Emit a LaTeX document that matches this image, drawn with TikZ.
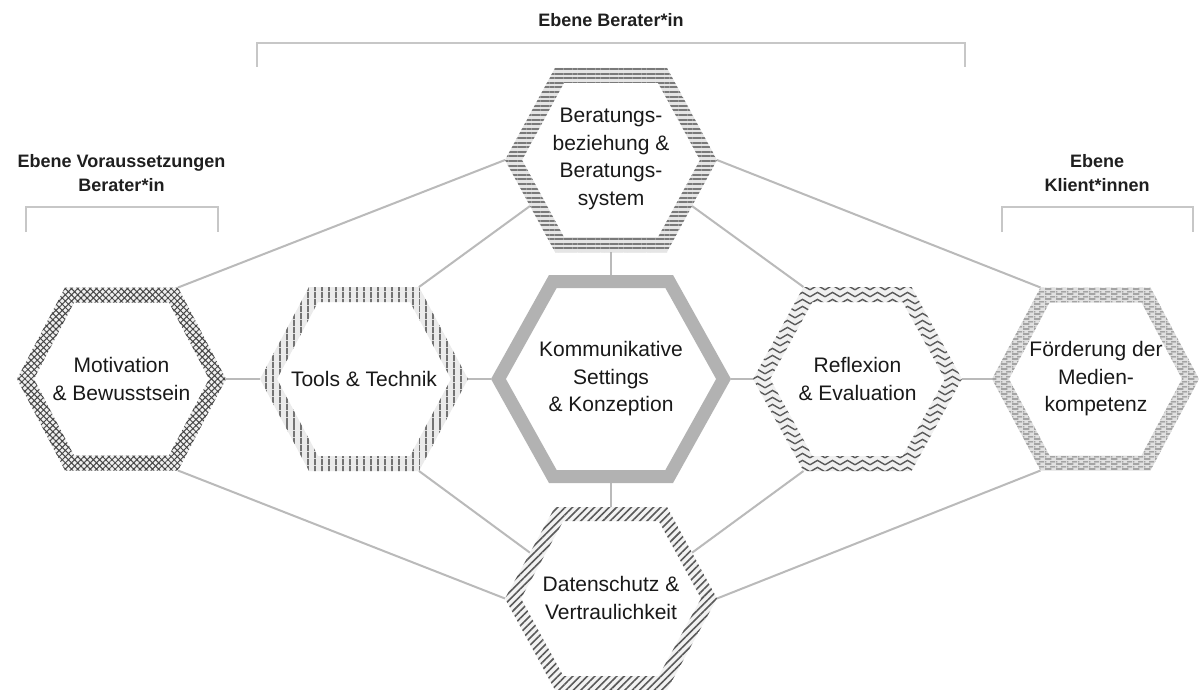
\documentclass[tikz,border=0pt]{standalone}
\usepackage{fontspec}
\setmainfont{Liberation Sans}
\usetikzlibrary{patterns,patterns.meta}

\pgfdeclarepatternformonly{zigzagrows}{\pgfqpoint{-1pt}{-1pt}}{\pgfqpoint{16pt}{8pt}}{\pgfqpoint{15pt}{7pt}}{%
  \pgfsetlinewidth{1.4pt}%
  \pgfpathmoveto{\pgfqpoint{0pt}{1.2pt}}%
  \pgfpathlineto{\pgfqpoint{7.5pt}{5.6pt}}%
  \pgfpathlineto{\pgfqpoint{15pt}{1.2pt}}%
  \pgfusepath{stroke}}

\pgfdeclarepatternformonly{dashrows}{\pgfqpoint{0pt}{0pt}}{\pgfqpoint{11pt}{5pt}}{\pgfqpoint{11pt}{5pt}}{%
  \pgfsetlinewidth{1.4pt}%
  \pgfpathmoveto{\pgfqpoint{0pt}{1.2pt}}\pgfpathlineto{\pgfqpoint{7pt}{1.2pt}}%
  \pgfpathmoveto{\pgfqpoint{5.5pt}{3.7pt}}\pgfpathlineto{\pgfqpoint{11pt}{3.7pt}}%
  \pgfpathmoveto{\pgfqpoint{0pt}{3.7pt}}\pgfpathlineto{\pgfqpoint{1.5pt}{3.7pt}}%
  \pgfusepath{stroke}}

% #1 name, #2 cx, #3 cy, #4 half width, #5 half top edge, #6 half height, #7 band, #8 style
\newcommand\hexband[8]{%
  \pgfmathsetmacro\hbD{#7*sqrt(1+((#4-#5)/#6)^2)}%
  \pgfmathsetmacro\hbW{#4-\hbD}%
  \pgfmathsetmacro\hbH{#6-#7}%
  \pgfmathsetmacro\hbA{\hbW-\hbH*(#4-#5)/#6}%
  \coordinate (#1-r)  at ({#2+#4},{#3});
  \coordinate (#1-br) at ({#2+#5},{#3+#6});
  \coordinate (#1-bl) at ({#2-#5},{#3+#6});
  \coordinate (#1-l)  at ({#2-#4},{#3});
  \coordinate (#1-tl) at ({#2-#5},{#3-#6});
  \coordinate (#1-tr) at ({#2+#5},{#3-#6});
  \coordinate (#1-t)  at ({#2},{#3-#6});
  \coordinate (#1-b)  at ({#2},{#3+#6});
  \coordinate (#1-mll) at ({#2-(#4+#5)/2},{#3+#6/2});
  \coordinate (#1-mlr) at ({#2+(#4+#5)/2},{#3+#6/2});
  \coordinate (#1-mul) at ({#2-(#4+#5)/2},{#3-#6/2});
  \coordinate (#1-mur) at ({#2+(#4+#5)/2},{#3-#6/2});
  \path[#8,even odd rule] (#1-r) -- (#1-br) -- (#1-bl) -- (#1-l) -- (#1-tl) -- (#1-tr) -- cycle
    ({#2+\hbW},{#3}) -- ({#2+\hbA},{#3+\hbH}) -- ({#2-\hbA},{#3+\hbH}) -- ({#2-\hbW},{#3}) -- ({#2-\hbA},{#3-\hbH}) -- ({#2+\hbA},{#3-\hbH}) -- cycle;
}

\tikzset{
  conn/.style={draw=black!27, line width=2pt},
  bracket/.style={draw=black!22, line width=2.5pt},
  hextext/.style={align=center, inner sep=0pt, text=black!90, font=\fontsize{21}{27.5}\selectfont},
  lvl/.style={align=center, inner sep=0pt, text=black!88, font=\bfseries\fontsize{18}{24}\selectfont},
  bandtop/.style={preaction={fill=black!10,even odd rule}, pattern={Lines[angle=0,distance=4.6pt,line width=1.9pt]}, pattern color=black!52},
  bandmot/.style={preaction={fill=black!6,even odd rule}, pattern={Hatch[angle=45,distance=4.4pt,line width=1pt]}, pattern color=black!72},
  bandtool/.style={preaction={fill=black!8,even odd rule}, pattern={Lines[angle=90,distance=6.5pt,line width=1.9pt]}, pattern color=black!55},
  bandcen/.style={fill=black!30},
  bandrefl/.style={preaction={fill=black!6,even odd rule}, pattern=zigzagrows, pattern color=black!65},
  bandfoe/.style={preaction={fill=black!12,even odd rule}, pattern=dashrows, pattern color=black!48},
  banddat/.style={preaction={fill=black!5,even odd rule}, pattern={Lines[angle=45,distance=5.2pt,line width=1.6pt]}, pattern color=black!65},
}

\begin{document}
\begin{tikzpicture}[x=1pt,y=-1pt]
\fill[white] (0,0) rectangle (1199,690);
\useasboundingbox (0,0) rectangle (1199,690);

% hexagon geometry (coordinates only first, drawn later on top)
\begin{scope}
\hexband{top}{611}{160}{106}{56}{92}{15}{draw=none}
\hexband{mot}{121.5}{379}{104.5}{56.5}{91.5}{15}{draw=none}
\hexband{tool}{364}{379}{104}{55}{92}{15}{draw=none}
\hexband{cen}{611}{379}{120}{62}{104}{13}{draw=none}
\hexband{refl}{857.5}{379}{104.5}{54}{92}{15}{draw=none}
\hexband{foe}{1095.5}{379}{103.5}{55}{91.5}{15}{draw=none}
\hexband{dat}{611}{598.5}{106}{56}{91.5}{14}{draw=none}
\end{scope}

% connectors
\draw[conn] (top-l) -- (mot-tr);
\draw[conn] (top-mll) -- (tool-tr);
\draw[conn] (top-r) -- (foe-tl);
\draw[conn] (top-mlr) -- (refl-tl);
\draw[conn] (top-b) -- (cen-t);
\draw[conn] (cen-b) -- (dat-t);
\draw[conn] (mot-r) -- (tool-l);
\draw[conn] (tool-r) -- (cen-l);
\draw[conn] (cen-r) -- (refl-l);
\draw[conn] (refl-r) -- (foe-l);
\draw[conn] (mot-br) -- (dat-l);
\draw[conn] (tool-br) -- (dat-mul);
\draw[conn] (refl-bl) -- (dat-mur);
\draw[conn] (foe-bl) -- (dat-r);

% bands
\hexband{top}{611}{160}{106}{56}{92}{15}{bandtop}
\hexband{mot}{121.5}{379}{104.5}{56.5}{91.5}{15}{bandmot}
\hexband{tool}{364}{379}{104}{55}{92}{15}{bandtool}
\hexband{cen}{611}{379}{120}{62}{104}{13}{bandcen}
\hexband{refl}{857.5}{379}{104.5}{54}{92}{15}{bandrefl}
\hexband{foe}{1095.5}{379}{103.5}{55}{91.5}{15}{bandfoe}
\hexband{dat}{611}{598.5}{106}{56}{91.5}{14}{banddat}

% texts
\node[hextext] (top-txt) at (611,159) {Beratungs-\\beziehung \&\\Beratungs-\\system};
\node[hextext] (mot-txt) at (121.5,379) {Motivation\\\& Bewusstsein};
\node[hextext] (tool-txt) at (364,379) {Tools \& Technik};
\node[hextext] (cen-txt) at (611,379) {Kommunikative\\Settings\\\& Konzeption};
\node[hextext] (refl-txt) at (857.5,379) {Reflexion\\\& Evaluation};
\node[hextext] (foe-txt) at (1096,379) {Förderung der\\Medien-\\kompetenz};
\node[hextext] (dat-txt) at (611,598) {Datenschutz \&\\Vertraulichkeit};

% brackets and level labels
\coordinate (tb-a) at (257,67); \coordinate (tb-b) at (965,67);
\draw[bracket] (tb-a) -- ++(0,-24) -| (tb-b);
\coordinate (lb-a) at (26,232); \coordinate (lb-b) at (218,232);
\draw[bracket] (lb-a) -- ++(0,-25) -| (lb-b);
\coordinate (rb-a) at (1002,232); \coordinate (rb-b) at (1193,232);
\draw[bracket] (rb-a) -- ++(0,-25) -| (rb-b);

\node[lvl, anchor=base] (lvl-top) at (611,27) {Ebene Berater*in};
\node[lvl] (lvl-left) at (121.5,173.5) {Ebene Voraussetzungen\\Berater*in};
\node[lvl] (lvl-right) at (1097,173.5) {Ebene\\Klient*innen};
\end{tikzpicture}
\end{document}
